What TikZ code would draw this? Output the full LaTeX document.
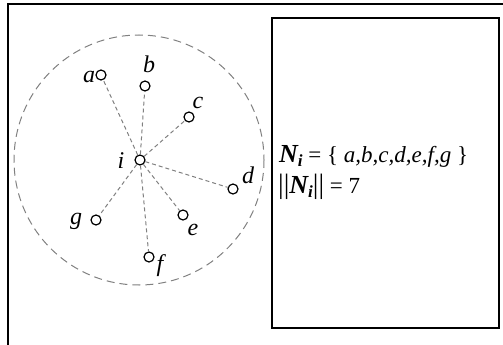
\documentclass[tikz,border=0pt]{standalone}
\usepackage{fontspec}
\setmainfont{Liberation Serif}

\begin{document}
\begin{tikzpicture}[x=1pt, y=-1pt,
    vtx/.style={draw, circle, inner sep=0pt, minimum size=10pt, line width=1.2pt},
    lbl/.style={anchor=base, inner sep=0pt, font=\fontsize{24}{24}\selectfont\itshape},
    link/.style={draw=gray, dash pattern=on 4pt off 3pt, line width=1pt},
    frame/.style={line width=1.4pt}]
  \useasboundingbox (0,0) rectangle (503,345);

  % frame and box
  \draw[frame] (8,345) -- (8,4) -- (503,4);
  \draw[line width=1.3pt] (272,18) rectangle (499,328);

  % neighbourhood
  \draw[gray, dash pattern=on 8pt off 5pt, line width=1pt] (139,160) circle[radius=125];

  \node[vtx] (i) at (140,160) {};
  \node[vtx] (a) at (101,75) {};
  \node[vtx] (b) at (145,86) {};
  \node[vtx] (c) at (189,117) {};
  \node[vtx] (d) at (233,189) {};
  \node[vtx] (e) at (183,215) {};
  \node[vtx] (f) at (149,257) {};
  \node[vtx] (g) at (96,220) {};

  \foreach \v in {a,b,c,d,e,f,g}
    \draw[link] (i) -- (\v);

  \node[lbl] (li) at (121,168) {i};
  \node[lbl] (la) at (89,82) {a};
  \node[lbl] (lb) at (149,73) {b};
  \node[lbl] (lc) at (198,108) {c};
  \node[lbl] (ld) at (248,183) {d};
  \node[lbl] (le) at (193,235) {e};
  \node[lbl] (lf) at (160,271) {f};
  \node[lbl] (lg) at (76,224) {g};

  % set and size
  \node[anchor=base west, inner sep=0pt] (nset) at (279,162)
    {\fontsize{26}{26}\selectfont\bfseries\itshape N\raisebox{-4pt}{\fontsize{17}{17}\selectfont i}%
     \fontsize{23}{23}\selectfont\mdseries\upshape\ = \{ \itshape a,b,c,d,e,f,g \upshape\}};
  \node[anchor=base west, inner sep=0pt] (ncard) at (278,193)
    {\fontsize{28}{28}\selectfont||\fontsize{26}{26}\selectfont\bfseries\itshape N\raisebox{-4pt}{\fontsize{17}{17}\selectfont i}%
     \mdseries\upshape\fontsize{28}{28}\selectfont||\fontsize{23}{23}\selectfont\ = 7};
\end{tikzpicture}
\end{document}
